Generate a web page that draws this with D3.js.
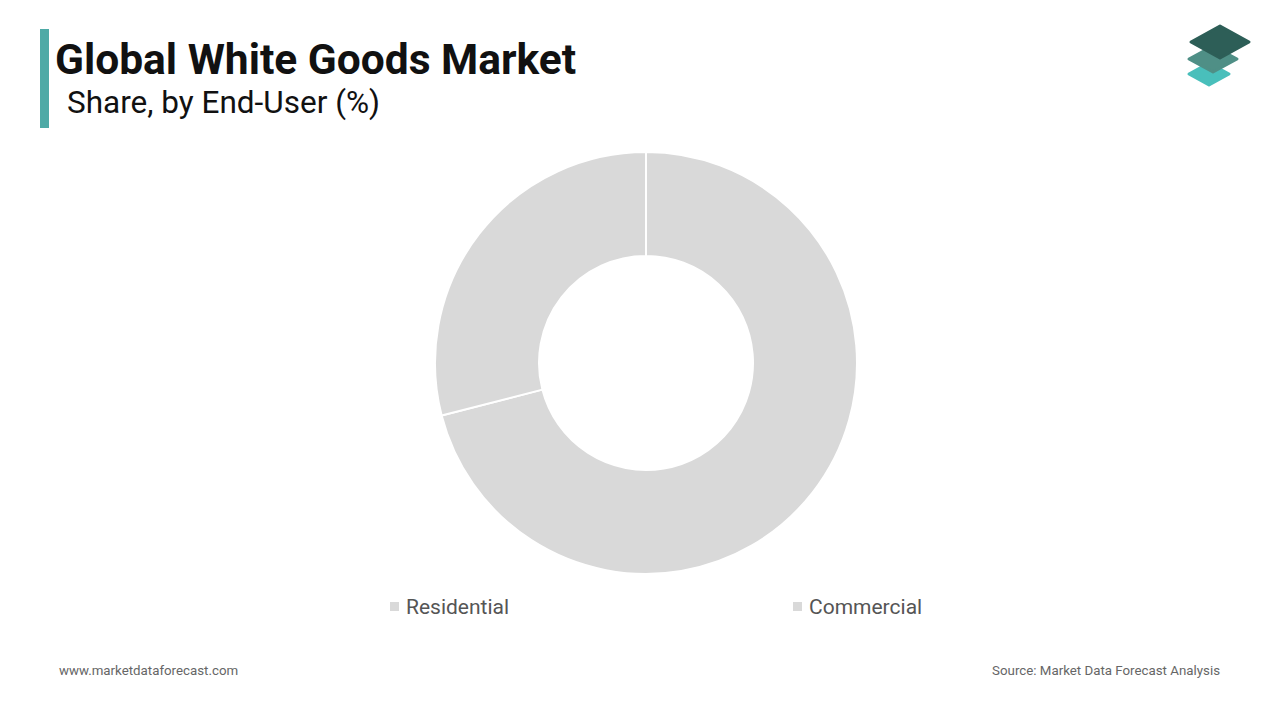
<!DOCTYPE html>
<html><head><meta charset="utf-8">
<script src="https://cdn.jsdelivr.net/npm/d3@7"></script>
<style>body{margin:0;background:#fff;font-family:Roboto,sans-serif}</style>
</head><body><div id="chart"></div>
<script>
const categories = ["Residential", "Commercial"];
const shares = [71, 29];
const colors = ["#d9d9d9", "#d9d9d9"];

const svg = d3.select("#chart").append("svg").attr("width", 1280).attr("height", 720);

// Title block
svg.append("rect").attr("x", 40).attr("y", 29).attr("width", 9).attr("height", 99).attr("fill", "#4eaaa6");
svg.append("text").attr("x", 55).attr("y", 74).attr("font-size", 42.5).attr("font-weight", 700)
    .attr("fill", "#111").text("Global White Goods Market");
svg.append("text").attr("x", 67).attr("y", 113).attr("font-size", 31.5).attr("fill", "#111")
    .text("Share, by End-User (%)");

// Logo
const logo = svg.append("g");
[[1209, 74, 20, 11, "#49bfbb"], [1213, 59, 24, 13, "#4f8f86"], [1220, 42, 29, 16, "#2d5e57"]].forEach(([cx, cy, w, h, c]) => {
    logo.append("path").attr("d", `M${cx},${cy - h}L${cx + w},${cy}L${cx},${cy + h}L${cx - w},${cy}Z`)
        .attr("fill", c).attr("stroke", c).attr("stroke-width", 3).attr("stroke-linejoin", "round");
});

// Donut
const pie = d3.pie().sort(null).value(d => d);
const arc = d3.arc().innerRadius(107).outerRadius(211);
svg.append("g").attr("transform", "translate(646,363)")
    .selectAll("path").data(pie(shares)).enter().append("path")
    .attr("d", arc).attr("fill", (d, i) => colors[i])
    .attr("stroke", "#fff").attr("stroke-width", 2);

// Legend
const legendX = [390, 793];
categories.forEach((c, i) => {
    svg.append("rect").attr("x", legendX[i]).attr("y", 602).attr("width", 9).attr("height", 9).attr("fill", colors[i]);
    svg.append("text").attr("x", legendX[i] + 16).attr("y", 614).attr("font-size", 21)
        .attr("fill", "#555").text(c);
});

// Footer
svg.append("text").attr("x", 59).attr("y", 675).attr("font-size", 13.3).attr("fill", "#666").text("www.marketdataforecast.com");
svg.append("text").attr("x", 1220).attr("y", 675).attr("font-size", 13.3).attr("fill", "#666")
    .attr("text-anchor", "end").text("Source: Market Data Forecast Analysis");
</script></body></html>
